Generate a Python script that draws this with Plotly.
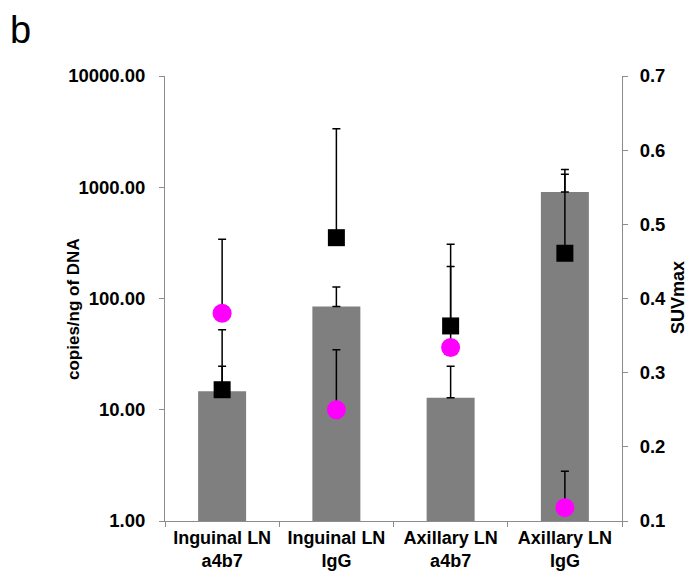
import plotly.graph_objects as go

categories = ["Inguinal LN<br>a4b7", "Inguinal LN<br>IgG", "Axillary LN<br>a4b7", "Axillary LN<br>IgG"]

# copies/ng of DNA (bars, left log axis)
bar_copies = [14.7, 84.9, 12.8, 907.0]
bar_copies_err = [9.9, 41.8, 11.8, 402.0]

# SUVmax (right axis) - black squares
square_suv = [0.277, 0.482, 0.363, 0.461]
square_suv_err = [0.081, 0.147, 0.110, 0.113]

# SUVmax (right axis) - magenta circles
circle_suv = [0.380, 0.250, 0.334, 0.118]
circle_suv_err = [0.100, 0.081, 0.109, 0.049]

left_tickvals = [1, 10, 100, 1000, 10000]
left_ticktext = ["1.00", "10.00", "100.00", "1000.00", "10000.00"]
right_tickvals = [0.1, 0.2, 0.3, 0.4, 0.5, 0.6, 0.7]

FONT = "Liberation Sans, Arial, sans-serif"
AXIS_COLOR = "#8c8c8c"

# page body has an 8px default margin -> figure is 8px smaller and margins shifted
PAGE_OFF = 8
L, R, T, B = 165 - PAGE_OFF, 74, 76 - PAGE_OFF, 57
W, H = 696 - PAGE_OFF, 578 - PAGE_OFF
PW, PH = W - L - R, H - T - B


def px_x(x):  # window px -> paper x
    return (x - PAGE_OFF - L) / PW


def px_y(y):  # window px -> paper y
    return (H - B - (y - PAGE_OFF)) / PH


fig = go.Figure()

fig.add_trace(go.Bar(
    x=categories, y=bar_copies, yaxis="y",
    marker=dict(color="#7f7f7f", line=dict(width=0)),
    width=0.42,
    error_y=dict(type="data", array=bar_copies_err, symmetric=False,
                 arrayminus=[0] * len(bar_copies_err),
                 color="black", thickness=1.5, width=4),
    showlegend=False,
))

fig.add_trace(go.Scatter(
    x=categories, y=square_suv, yaxis="y2", mode="markers",
    marker=dict(symbol="square", size=17, color="black", line=dict(width=0)),
    error_y=dict(type="data", array=square_suv_err, symmetric=False,
                 arrayminus=[0] * len(square_suv_err),
                 color="black", thickness=1.5, width=4),
    showlegend=False,
))

fig.add_trace(go.Scatter(
    x=categories, y=circle_suv, yaxis="y2", mode="markers",
    marker=dict(symbol="circle", size=19, color="#ff00ff", line=dict(width=0)),
    error_y=dict(type="data", array=circle_suv_err, symmetric=False,
                 arrayminus=[0] * len(circle_suv_err),
                 color="black", thickness=1.5, width=4),
    showlegend=False,
))

fig.update_layout(
    width=W, height=H,
    margin=dict(l=L, r=R, t=T, b=B, autoexpand=False),
    paper_bgcolor="white", plot_bgcolor="white",
    font=dict(family=FONT, size=18, color="black"),
    xaxis=dict(
        type="category",
        showline=True, linecolor=AXIS_COLOR, linewidth=1,
        ticks="outside", tickson="boundaries", ticklen=5, tickcolor=AXIS_COLOR,
        showgrid=False, zeroline=False,
        tickfont=dict(family=FONT, size=18, color="black", weight="bold"),
        range=[-0.5, 3.5],
    ),
    yaxis=dict(
        type="log", range=[0, 4],
        tickvals=left_tickvals, ticktext=left_ticktext,
        showline=True, linecolor=AXIS_COLOR, linewidth=1,
        ticks="outside", ticklen=5, tickcolor=AXIS_COLOR,
        ticklabelstandoff=10,
        showgrid=False, zeroline=False,
        tickfont=dict(family=FONT, size=18.5, color="black", weight="bold"),
    ),
    yaxis2=dict(
        overlaying="y", side="right",
        range=[0.1, 0.7], tickvals=right_tickvals, tickformat=".1f",
        showline=True, linecolor=AXIS_COLOR, linewidth=1,
        ticks="outside", ticklen=5, tickcolor=AXIS_COLOR,
        ticklabelstandoff=8,
        showgrid=False, zeroline=False,
        tickfont=dict(family=FONT, size=18.5, color="black", weight="bold"),
    ),
    annotations=[
        dict(text="<b>copies/ng of DNA</b>", textangle=-90,
             xref="paper", yref="paper", x=px_x(73), y=px_y(309),
             xanchor="center", yanchor="middle", showarrow=False,
             font=dict(family=FONT, size=17, color="black")),
        dict(text="<b>SUVmax</b>", textangle=-90,
             xref="paper", yref="paper", x=px_x(678), y=px_y(298),
             xanchor="center", yanchor="middle", showarrow=False,
             font=dict(family=FONT, size=18, color="black")),
        dict(text="b", xref="paper", yref="paper",
             x=px_x(9), y=px_y(8), borderpad=0,
             xanchor="left", yanchor="top", showarrow=False,
             font=dict(family=FONT, size=38, color="black")),
    ],
)

fig.write_html("out.html")
